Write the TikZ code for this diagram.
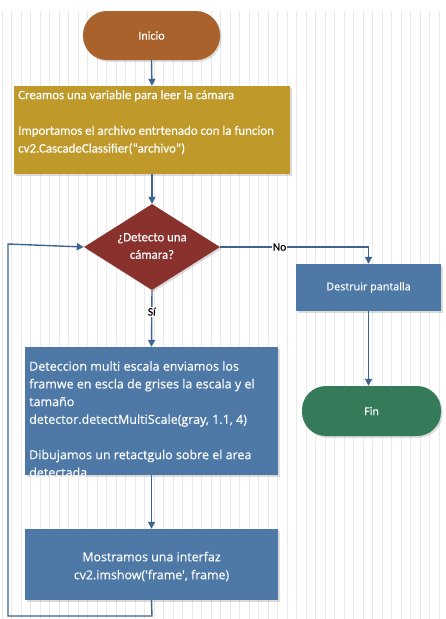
\documentclass[tikz,border=0pt]{standalone}
\usepackage{fontspec}
\setmainfont{Carlito}[FakeBold=0.25]
\newfontfamily\uifont{Open Sans}[FakeBold=0.2]
\usetikzlibrary{arrows.meta,shapes.geometric,shadows}

\definecolor{startc}{RGB}{169,98,43}
\definecolor{prepc}{RGB}{191,154,43}
\definecolor{decc}{RGB}{137,50,45}
\definecolor{procc}{RGB}{78,121,167}
\definecolor{endc}{RGB}{53,122,89}
\definecolor{linec}{RGB}{60,100,145}
\definecolor{gridc}{RGB}{234,234,234}

\tikzset{
  shade/.style={drop shadow={opacity=0.28,shadow xshift=1.5pt,shadow yshift=-1.8pt}},
  pill/.style={shape=rectangle,rounded corners=24pt,inner sep=0pt,
    minimum width=137pt,minimum height=49pt,text=white,
    font=\fontsize{12}{14}\selectfont,shade},
  boxc/.style={shape=rectangle,inner sep=0pt,shade},
  boxtext/.style={anchor=north west,inner sep=0pt,align=left,text=white},
  flow/.style={draw=linec,line width=1.4pt,-{Triangle[length=7pt,width=7pt]}},
  tag/.style={fill=white,inner sep=1pt,text=black,font=\fontsize{11.5}{13}\selectfont}
}

\begin{document}
\begin{tikzpicture}[x=1pt,y=-1pt]
  \useasboundingbox (0,0) rectangle (445,619);
  \fill[white] (0,0) rectangle (445,619);
  % background grid
  \draw[gridc,line width=0.8pt,xstep=9.5,ystep=11,shift={(2,0)}] (-2,11) grid (445,619);

  % nodes
  \node[pill,fill=startc] (start) at (151.5,35.5) {Inicio};

  \node[boxc,fill=prepc,minimum width=276pt,minimum height=88pt] (prep) at (152,130) {};
  \node[boxtext,font=\fontsize{12.9}{17.8}\selectfont] (preptxt) at (18,90)
    {Creamos una variable para leer la cámara\\[17.8pt]
     Importamos el archivo entrtenado con la funcion\\
     cv2.CascadeClassifier(“archivo”)};

  \node[shape=diamond,fill=decc,inner sep=0pt,minimum width=136pt,minimum height=86pt,
        aspect=1.58,shade] (dec) at (152,247) {};
  \node[text=white,align=center,font=\fontsize{12.8}{17.5}\selectfont] (dectxt) at (152,246)
    {¿Detecto una\\cámara?};

  \node[boxc,fill=procc,minimum width=145pt,minimum height=47pt,text=white,
        font=\uifont\fontsize{10.8}{12}\selectfont] (destroy) at (368.5,287.5) {Destruir pantalla};

  \node[pill,fill=endc,minimum width=139pt,minimum height=50pt] (fin) at (371.5,411) {Fin};

  \node[boxc,fill=procc,minimum width=253pt,minimum height=128pt] (detect) at (151.5,411) {};
  \node[boxtext,font=\uifont\fontsize{12.5}{17.7}\selectfont] (detecttxt) at (29,361)
    {Deteccion multi escala enviamos los\\
     framwe en escla de grises la escala y el\\
     tamaño\\
     detector.detectMultiScale(gray, 1.1, 4)\\[17.7pt]
     Dibujamos un retactgulo sobre el area\\
     detectada};

  \node[boxc,fill=procc,minimum width=253pt,minimum height=71pt,text=white,align=center,
        font=\uifont\fontsize{12.4}{18}\selectfont] (show) at (151.5,564.5) {};
  \node[text=white,align=center,inner sep=0pt,
        font=\uifont\fontsize{12.4}{18}\selectfont] (showtxt) at (151.5,566.5)
    {Mostramos una interfaz\\cv2.imshow('frame', frame)};

  % loop-back corners
  \coordinate (lb) at (152,616);
  \coordinate (ll) at (8,616);
  \coordinate (lt) at (8,244);

  % connectors
  \draw[flow] (start.south) -- (prep.north);
  \draw[flow] (prep.south) -- (dec.north);
  \draw[flow] (dec.east) -- node[tag,pos=0.4] {No} (dec.east -| destroy.north) -- (destroy.north);
  \draw[flow] (destroy.south) -- (destroy.south |- fin.north);
  \draw[flow] (dec.south) -- node[tag,pos=0.38] {Sí} (detect.north);
  \draw[flow] (detect.south) -- (show.north);
  \draw[flow] (show.south) -- (lb) -- (ll) -- (lt) -- (dec.west);
\end{tikzpicture}
\end{document}
